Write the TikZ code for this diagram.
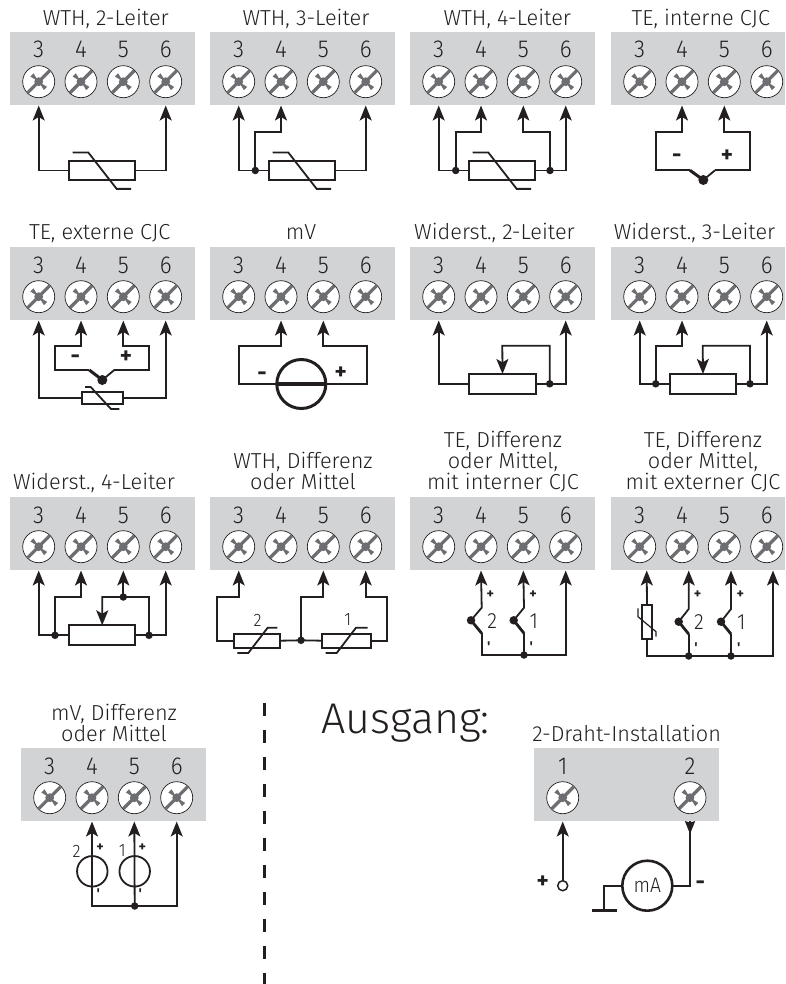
\documentclass[tikz,border=0pt]{standalone}
\usepackage{fontspec}
\setmainfont{Fira Sans Light}
\newfontfamily\digfont[FakeStretch=0.92]{Fira Sans Light}
\newfontfamily\signfont{Fira Sans}
\usetikzlibrary{arrows.meta,calc}
\definecolor{ink}{HTML}{231F20}
\definecolor{panel}{HTML}{D1D3D4}
\definecolor{slot}{HTML}{6D6E71}
\tikzset{
  x=1pt,y=-1pt,
  every node/.style={text=ink,inner sep=0pt,outer sep=0pt},
  wire/.style={draw=ink,line width=1.8pt,line join=miter},
  tipped/.style={wire,{Stealth[length=15pt,width=12pt,inset=3.5pt]}-},
  wiper/.style={wire,-{Stealth[length=15pt,width=12pt,inset=3.5pt]}},
  blockbg/.style={fill=panel,anchor=north west,minimum height=73pt},
  screwhead/.style={circle,draw=ink,line width=0.7pt,fill=white,minimum size=32pt},
  digit/.style={font=\digfont\fontsize{24.5}{24}\selectfont,anchor=base},
  ttl/.style={font=\fontsize{21.7}{19.6}\selectfont,align=center,anchor=base},
  res/.style={rectangle,draw=ink,line width=1.8pt,fill=white},
  junction/.style={circle,fill=ink,minimum size=7.5pt},
  tcdot/.style={circle,fill=ink,minimum size=10pt},
  sign/.style={font=\signfont\fontsize{23}{23}\selectfont\bfseries},
  small/.style={font=\signfont\fontsize{14}{14}\selectfont\bfseries},
  lab/.style={font=\digfont\fontsize{18}{18}\selectfont},
  biglab/.style={font=\digfont\fontsize{22}{22}\selectfont},
  source/.style={circle,draw=ink,line width=1.8pt,minimum size=30.5pt},
}
% a screw terminal head
\newcommand\screwat[3]{% name, x, y
  \node[screwhead] (#1) at (#2,#3) {};
  \begin{scope}[shift={(#2,#3)}]
    \clip (0,0) circle (15.6);
    \draw[slot,line width=3.3pt] (-15,15) -- (15,-15);
    \fill[slot] (-8.4,-5.2) -- (-5.2,-8.4) -- (-2,-3.2) -- (3.2,2) -- (8.4,5.2) -- (5.2,8.4) -- (2,3.2) -- (-3.2,-2) -- cycle;
    \fill[slot] (0,0) circle (4.4);
  \end{scope}
}
% terminal block, drawn at the current scope origin: id, width
\newcommand\tblock[2]{%
  \node[blockbg,minimum width=#2pt] (#1) at (0,0) {};
  \foreach \n/\xx in {3/28.7,4/71,5/113.3,6/155.7}{
    \node[digit] (#1-d\n) at (\xx,26) {\n};
    \screwat{#1-s\n}{\xx}{49.7}
    \coordinate (#1\n) at (\xx,73.5);
  }
}
% thermistor symbol around a horizontal resistor
\newcommand\rtd[1]{%
  \draw[wire] ($(#1.center)+(-29.5,-18)$) -- ++(15.6,0) -- ++(28.4,36.4) -- ++(14.3,0);
}
\begin{document}
\begin{tikzpicture}
\useasboundingbox (0,0) rectangle (785,984);
% ---------- row 1
\node[ttl] (t1) at (105.8,26) {WTH, 2-Leiter};
\begin{scope}[shift={(10,32)}]
  \tblock{a}{185}
  \node[res,minimum width=66.3pt,minimum height=19.6pt] (ar) at (92.2,138.5) {};
  \draw[tipped] (a3) |- (ar.west);
  \draw[tipped] (a6) |- (ar.east);
  \rtd{ar}
\end{scope}
\node[ttl] (t2) at (306,26) {WTH, 3-Leiter};
\begin{scope}[shift={(210,32)}]
  \tblock{b}{185}
  \node[res,minimum width=66.3pt,minimum height=19.6pt] (br) at (92.2,138.5) {};
  \node[junction] (bj) at (45.3,138.5) {};
  \coordinate (bc) at (45.3,100.3);
  \draw[tipped] (b3) |- (bj.center) -- (br.west);
  \draw[tipped] (b4) |- (bc) -- (bj.center);
  \draw[tipped] (b6) |- (br.east);
  \rtd{br}
\end{scope}
\node[ttl] (t3) at (507.3,26) {WTH, 4-Leiter};
\begin{scope}[shift={(410,32)}]
  \tblock{c}{185}
  \node[res,minimum width=66.3pt,minimum height=19.6pt] (cr) at (92.2,138.5) {};
  \node[junction] (cj) at (45.7,138.5) {};
  \node[junction] (ck) at (140,138.5) {};
  \draw[tipped] (c3) |- (cj.center) -- (cr.west);
  \draw[tipped] (c4) |- (45.7,100.3) -- (cj.center);
  \draw[tipped] (c5) |- (140,100.3) -- (ck.center);
  \draw[tipped] (c6) |- (ck.center) -- (cr.east);
  \rtd{cr}
\end{scope}
\node[ttl] (t4) at (700.8,26) {TE, interne CJC};
\begin{scope}[shift={(611,32)}]
  \tblock{d}{174}
  \node[tcdot] (dt) at (92.3,148) {};
  \draw[tipped] (d4) |- (44.7,100.3) |- (79,138.3);
  \draw[tipped] (d5) |- (139.3,100.3) |- (104,138.3);
  \draw[wire,line width=3pt] (79,138.3) -- (dt.center);
  \draw[wire] (104,138.3) -- (dt.center);
  \node[sign] (dm) at (65.7,126) {-};
  \node[sign] (dp) at (116,124) {+};
\end{scope}
% ---------- row 2
\node[ttl] (t5) at (99.7,240) {TE, externe CJC};
\begin{scope}[shift={(10,247)}]
  \tblock{e}{185}
  \node[res,minimum width=41pt,minimum height=12.6pt] (er) at (92.2,151) {};
  \node[tcdot] (et) at (92.3,133) {};
  \draw[tipped] (e3) |- (er.west);
  \draw[tipped] (e6) |- (er.east);
  \draw[wire] ($(er.center)+(-17.2,-11)$) -- ++(5.7,0) -- ++(20.3,22) -- ++(8.3,0);
  \draw[tipped] (e4) |- (45,99) |- (79.3,123);
  \draw[tipped] (e5) |- (139,99) |- (104.3,123);
  \draw[wire,line width=3pt] (79.3,123) -- (et.center);
  \draw[wire] (104.3,123) -- (et.center);
  \node[sign] (em) at (65.3,112.3) {-};
  \node[sign] (ep) at (116,109.7) {+};
\end{scope}
\node[ttl] (t6) at (301,240) {mV};
\begin{scope}[shift={(210,247)}]
  \tblock{f}{185}
  \node[circle,draw=ink,line width=3pt,minimum size=49pt] (fs) at (91.3,137) {};
  \draw[tipped] (f4) |- (29,99) |- (fs.west);
  \draw[tipped] (f5) |- (156.7,99) |- (fs.east);
  \draw[wire,line width=4pt] (fs.west) -- (fs.east);
  \node[sign] (fm) at (52,128.7) {-};
  \node[sign] (fp) at (130.7,125.7) {+};
\end{scope}
\node[ttl] (t7) at (494.5,240) {Widerst., 2-Leiter};
\begin{scope}[shift={(410,247)}]
  \tblock{g}{185}
  \node[res,minimum width=67pt,minimum height=19.7pt] (gr) at (92.5,136.8) {};
  \node[junction] (gj) at (139.7,136.8) {};
  \draw[tipped] (g3) |- (gr.west);
  \draw[tipped] (g6) |- (gj.center) -- (gr.east);
  \draw[wiper] (gj.center) |- (92.3,98.7) -- (gr.north);
\end{scope}
\node[ttl] (t8) at (694.5,240) {Widerst., 3-Leiter};
\begin{scope}[shift={(611,247)}]
  \tblock{h}{174}
  \node[res,minimum width=66.6pt,minimum height=19.7pt] (hr) at (92,136.8) {};
  \node[junction] (hj) at (44.7,136.8) {};
  \node[junction] (hk) at (139,136.8) {};
  \draw[tipped] (h3) |- (hj.center) -- (hr.west);
  \draw[tipped] (h4) |- (44.7,98.7) -- (hj.center);
  \draw[tipped] (h6) |- (hk.center) -- (hr.east);
  \draw[wiper] (hk.center) |- (91.7,98.7) -- (hr.north);
\end{scope}
% ---------- row 3
\node[ttl] (t9) at (94,489) {Widerst., 4-Leiter};
\begin{scope}[shift={(10,497)}]
  \tblock{i}{185}
  \node[res,minimum width=66.3pt,minimum height=20pt] (ir) at (92.2,138.3) {};
  \node[junction] (ij) at (45,138.3) {};
  \node[junction] (ik) at (139,138.3) {};
  \node[junction] (il) at (113.3,100) {};
  \draw[tipped] (i3) |- (ij.center) -- (ir.west);
  \draw[tipped] (i4) |- (45,100) -- (ij.center);
  \draw[tipped] (i5) -- (il.center);
  \draw[tipped] (i6) |- (ik.center) -- (ir.east);
  \draw[wire] (ik.center) |- (il.center);
  \draw[wiper] (il.center) -- (92.3,100) -- (ir.north);
\end{scope}
\node[ttl] (t10) at (303,489) {WTH, Differenz\\oder Mittel};
\begin{scope}[shift={(210,497)}]
  \tblock{j}{185}
  \node[res,minimum width=46.6pt,minimum height=14pt] (jr) at (47,143.7) {};
  \node[res,minimum width=49pt,minimum height=14pt] (js) at (136.5,143.7) {};
  \node[junction] (jj) at (91,143.3) {};
  \draw[tipped] (j3) |- (7.3,100) |- (jr.west);
  \draw[tipped] (j5) |- (91,100) -- (jj.center);
  \draw[tipped] (j6) |- (177.3,100) |- (js.east);
  \draw[wire] (jr.east) -- (jj.center) -- (js.west);
  \draw[wire] (27.3,156) -- (38.3,156) -- (57.7,130.7) -- (67.3,130.7);
  \draw[wire] (115.7,156) -- (126.7,156) -- (146,130.7) -- (157.7,130.7);
  \node[lab] (jl2) at (47.7,123) {2};
  \node[lab] (jl1) at (137.7,123) {1};
\end{scope}
\node[ttl] (t11) at (503,489) {TE, Differenz\\oder Mittel,\\mit interner CJC};
\begin{scope}[shift={(410,497)}]
  \tblock{k}{185}
  \node[tcdot,minimum size=8.5pt] (kt) at (61,123.3) {};
  \node[tcdot,minimum size=8.5pt] (ku) at (103.7,123.3) {};
  \node[junction] (kj) at (114,158) {};
  \draw[tipped] (k4) -- (71.7,110.7) -- (kt.center);
  \draw[tipped] (k5) -- (114,110.7) -- (ku.center);
  \draw[wire,line width=2.8pt] (kt.center) -- (71.7,136.3);
  \draw[wire,line width=2.8pt] (ku.center) -- (114,136.3);
  \draw[wire] (71.7,136.3) |- (kj.center);
  \draw[wire] (114,136.3) -- (kj.center);
  \draw[tipped] (k6) |- (kj.center);
  \node[small] at (80.3,97.7) (kp2) {+};
  \node[small] at (123,97.7) (kp1) {+};
  \node[small] at (78.7,150) (km2) {'};
  \node[small] at (121.3,150) (km1) {'};
  \node[biglab] (kl2) at (82.3,124.3) {2};
  \node[biglab] (kl1) at (123.7,124.3) {1};
\end{scope}
\node[ttl] (t12) at (703,489) {TE, Differenz\\oder Mittel,\\mit externer CJC};
\begin{scope}[shift={(611,497)}]
  \tblock{l}{174}
  \node[res,minimum width=10pt,minimum height=33.7pt] (lr) at (36,125.2) {};
  \node[tcdot,minimum size=8.5pt] (lt) at (67.7,124.7) {};
  \node[tcdot,minimum size=8.5pt] (lu) at (110,124.7) {};
  \node[junction] (lj) at (77.7,159) {};
  \node[junction] (lk) at (120,159) {};
  \coordinate (la) at (35.7,73.5);
  \coordinate (lb) at (77.7,73.5);
  \coordinate (lc) at (120,73.5);
  \coordinate (ld) at (162,73.5);
  \draw[tipped] (la) -- (lr.north);
  \draw[wire] (35.7,142) |- (lj.center);
  \draw[wire,line width=1.2pt] (27,111.3) -- (27,119.7) -- (45,134.7) -- (45,139.7);
  \draw[tipped] (lb) -- (77.7,112) -- (lt.center);
  \draw[tipped] (lc) -- (120,112) -- (lu.center);
  \draw[wire,line width=2.8pt] (lt.center) -- (77.7,137);
  \draw[wire,line width=2.8pt] (lu.center) -- (120,137);
  \draw[wire] (77.7,137) -- (lj.center);
  \draw[wire] (120,137) -- (lk.center);
  \draw[tipped] (ld) |- (lk.center) -- (lj.center);
  \node[small] (lp2) at (86.7,97.7) {+};
  \node[small] (lp1) at (129.3,97.7) {+};
  \node[small] (lm2) at (85,151) {'};
  \node[small] (lm1) at (127.7,151) {'};
  \node[biglab] (ll2) at (88,125) {2};
  \node[biglab] (ll1) at (130.3,125) {1};
\end{scope}
% ---------- row 4
\node[ttl] (t13) at (114,741) {mV, Differenz\\oder Mittel};
\begin{scope}[shift={(21,748)}]
  \tblock{m}{185}
  \node[source] (ms) at (71.3,123.3) {};
  \node[source] (mt) at (113.7,123.3) {};
  \node[junction] (mj) at (113.7,158) {};
  \draw[tipped] (m4) |- (mj.center);
  \draw[tipped] (m5) -- (mj.center);
  \draw[tipped] (m6) |- (mj.center);
  \node[lab] (ml2) at (55.7,103) {2};
  \node[lab] (ml1) at (101.3,103) {1};
  \node[small] (mp2) at (79,99.7) {+};
  \node[small] (mp1) at (121.3,99.7) {+};
  \node[small] (mm2) at (77.3,146) {'};
  \node[small] (mm1) at (119.3,146) {'};
\end{scope}
\coordinate (dashA) at (264.7,702.7);
\coordinate (dashB) at (264.7,984);
\draw[draw=ink,line width=3.5pt,dash pattern=on 13.3pt off 13.7pt] (dashA) -- (dashB);
\node[font=\fontsize{43}{43}\selectfont,anchor=base west] (out) at (321,733.3) {Ausgang:};
\node[ttl] (t14) at (626.7,741) {2-Draht-Installation};
\begin{scope}[shift={(534,748)}]
  \node[blockbg,minimum width=185pt] (n) at (0,0) {};
  \node[digit] (n-d1) at (28.7,26) {1};
  \node[digit] (n-d2) at (156,26) {2};
  \screwat{n-s1}{28.7}{49.7}
  \screwat{n-s2}{156}{49.7}
  \coordinate (n1) at (28.7,73.5);
  \coordinate (n2) at (156,73);
  \node[circle,draw=ink,line width=1.5pt,fill=white,minimum size=10pt] (no) at (28.7,137.7) {};
  \draw[tipped] (n1) -- (no.north);
  \node[circle,draw=ink,line width=2.6pt,minimum size=50pt,font=\digfont\fontsize{21}{21}\selectfont] (nm) at (113.3,137.7) {mA};
  \draw[wire] (n2) |- (nm.east);
  \fill[ink] (150.8,73) -- (156,74.5) -- (161.2,73) -- (156,86) -- cycle;
  \coordinate (ng) at (70.3,162);
  \draw[wire] (nm.west) -| (ng);
  \draw[draw=ink,line width=3pt] ($(ng)+(-12,0)$) -- ($(ng)+(12.4,0)$);
  \node[sign] (np) at (8.7,133.7) {+};
  \node[sign] (nn) at (166.3,137) {-};
\end{scope}
\end{tikzpicture}
\end{document}
